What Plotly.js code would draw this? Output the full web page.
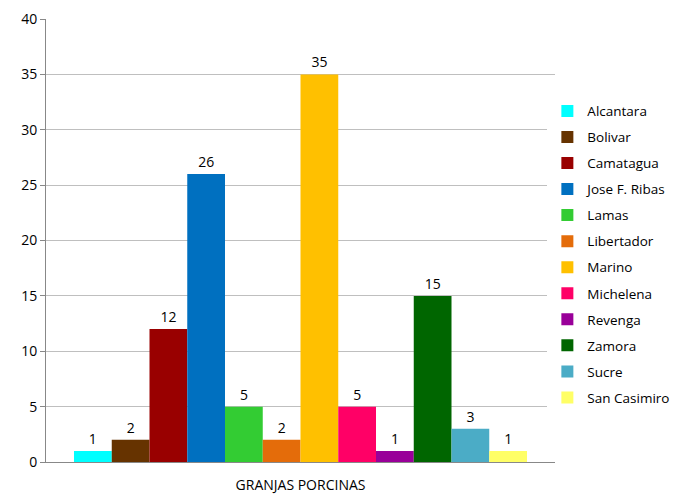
<!DOCTYPE html>
<html>
<head>
<meta charset="utf-8">
<script src="https://cdn.plot.ly/plotly-3.0.1.min.js"></script>
<style>html,body{margin:0;padding:0;background:#fff;}#chart{width:675px;height:495px;}</style>
</head>
<body>
<div id="chart"></div>
<script>
const categories = ["GRANJAS PORCINAS"];
const seriesNames = ["Alcantara","Bolivar","Camatagua","Jose F. Ribas","Lamas","Libertador","Marino","Michelena","Revenga","Zamora","Sucre","San Casimiro"];
const seriesValues = [1,2,12,26,5,2,35,5,1,15,3,1];
const seriesColors = ["#00FFFF","#663300","#990000","#0070C0","#33CC33","#E46C0A","#FFC000","#FF0066","#990099","#006600","#4BACC6","#FFFF66"];
const yTicks = [0,5,10,15,20,25,30,35,40];

const font = "Open Sans, Liberation Sans, sans-serif";
const traces = seriesNames.map((name, i) => ({
  type: "bar",
  name: name,
  x: categories,
  y: [seriesValues[i]],
  marker: {color: seriesColors[i], line: {width: 0}},
  text: [String(seriesValues[i])],
  textposition: "outside",
  textfont: {family: font, size: 14, color: "#000"},
  cliponaxis: false,
  legendgroup: "g" + i,
  hoverinfo: "name+y"
}));

const layout = {
  width: 675, height: 495,
  margin: {l: 46, r: 120, t: 19, b: 33, autoexpand: false},
  paper_bgcolor: "#fff", plot_bgcolor: "#fff",
  font: {family: font, size: 14, color: "#000"},
  barmode: "group",
  bargap: 0.11,
  bargroupgap: 0,
  showlegend: true,
  legend: {x: 0.985, xanchor: "left", y: 0.827, yanchor: "top", maxheight: 420,
           traceorder: "grouped", tracegroupgap: 5.5,
           font: {family: font, size: 13.5, color: "#000"}, itemwidth: 30},
  xaxis: {type: "category", showgrid: false, showline: true, linecolor: "#888", linewidth: 1,
          ticks: "", ticklabelstandoff: 10, tickfont: {family: font, size: 14, color: "#000"}},
  yaxis: {range: [0, 40], tickvals: yTicks, showgrid: true, gridcolor: "#bfbfbf", gridwidth: 1,
          showline: true, linecolor: "#888", linewidth: 1, ticks: "outside", ticklen: 5, tickcolor: "#888",
          zeroline: false, tickfont: {family: font, size: 14, color: "#000"}}
};
Plotly.newPlot("chart", traces, layout, {displayModeBar: false, staticPlot: true});
</script>
</body>
</html>
